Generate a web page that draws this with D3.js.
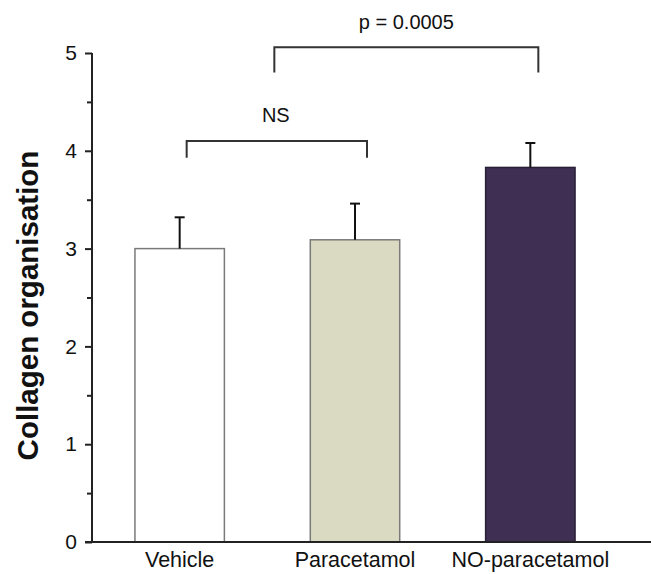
<!DOCTYPE html>
<html>
<head>
<meta charset="utf-8">
<script src="https://cdn.jsdelivr.net/npm/d3@7"></script>
<style>
  body { margin: 0; background: #fff; }
  svg { display: block; font-family: "Liberation Sans", Arial, sans-serif; }
</style>
</head>
<body>
<div id="chart"></div>
<script>
const groups = ['Vehicle', 'Paracetamol', 'NO-paracetamol']
const means = [3.0, 3.09, 3.83]
const errors = [0.32, 0.37, 0.25]
const fills = ['#ffffff', '#dad9c2', '#3f2f53']
const yTicks = [0, 1, 2, 3, 4, 5]
const yMinorTicks = [0.5, 1.5, 2.5, 3.5, 4.5]

// significance brackets: [from, to, bar y, leg bottom y, label y, label]
const brackets = [
    {from: 0, to: 1, top: 4.10, leg: 3.93, labelY: 4.29, label: 'NS'},
    {from: 0.54, to: 2, top: 5.06, leg: 4.80, labelY: 5.25, label: 'p = 0.0005'}
]

const width = 651, height = 574
const x0 = 92, x1 = 618

const svg = d3.select('#chart').append('svg')
    .attr('width', width)
    .attr('height', height)

const x = d3.scaleBand()
    .domain(groups)
    .range([x0, x1])
    .paddingInner(0.49)
    .paddingOuter(0.245)

const y = d3.scaleLinear()
    .domain([0, 5])
    .range([542, 53])

// bars
svg.selectAll('rect.bar')
    .data(groups)
    .join('rect')
    .attr('class', 'bar')
    .attr('x', d => x(d))
    .attr('width', x.bandwidth())
    .attr('y', (d, i) => y(means[i]))
    .attr('height', (d, i) => y(0) - y(means[i]))
    .attr('fill', (d, i) => fills[i])
    .attr('stroke', (d, i) => i == 2 ? '#2a2035' : '#7a7a7a')
    .attr('stroke-width', 1.5)

// error bars (upper only)
const errG = svg.selectAll('g.err')
    .data(groups)
    .join('g')
    .attr('class', 'err')
    .attr('stroke', '#111')
    .attr('stroke-width', 2)
errG.append('line')
    .attr('x1', d => x(d) + x.bandwidth() / 2)
    .attr('x2', d => x(d) + x.bandwidth() / 2)
    .attr('y1', (d, i) => y(means[i]))
    .attr('y2', (d, i) => y(means[i] + errors[i]))
errG.append('line')
    .attr('x1', d => x(d) + x.bandwidth() / 2 - 5)
    .attr('x2', d => x(d) + x.bandwidth() / 2 + 5)
    .attr('y1', (d, i) => y(means[i] + errors[i]))
    .attr('y2', (d, i) => y(means[i] + errors[i]))

// y axis
const yAxis = svg.append('g')
    .attr('transform', `translate(${x0},0)`)
    .call(d3.axisLeft(y).tickValues(yTicks).tickSize(7).tickPadding(8).tickFormat(d3.format('d')))
yAxis.selectAll('text')
    .attr('font-size', 21)
    .attr('fill', '#111')
    .attr('font-family', '"Liberation Sans", Arial, sans-serif')
yAxis.selectAll('line, path').attr('stroke', '#222').attr('stroke-width', 2)
yAxis.select('path.domain').attr('d', `M0,${y(0)}V${y(5)}`)

const yMinor = svg.append('g')
    .attr('transform', `translate(${x0},0)`)
    .call(d3.axisLeft(y).tickValues(yMinorTicks).tickSize(5).tickFormat(''))
yMinor.select('path.domain').remove()
yMinor.selectAll('line').attr('stroke', '#222').attr('stroke-width', 2)

// x axis baseline and labels
svg.append('line')
    .attr('x1', x0 - 7)
    .attr('x2', width)
    .attr('y1', y(0))
    .attr('y2', y(0))
    .attr('stroke', '#222')
    .attr('stroke-width', 2)

const xAxis = svg.append('g')
    .attr('transform', `translate(0,${y(0)})`)
    .call(d3.axisBottom(x).tickSize(0).tickPadding(10))
xAxis.select('path.domain').remove()
xAxis.selectAll('text')
    .attr('font-size', 21.5)
    .attr('fill', '#111')
    .attr('font-family', '"Liberation Sans", Arial, sans-serif')

// y title
svg.append('text')
    .attr('transform', `translate(38,${(y(0) + y(5)) / 2 + 8}) rotate(-90)`)
    .attr('text-anchor', 'middle')
    .attr('font-size', 29.5)
    .attr('font-weight', 'bold')
    .attr('fill', '#111')
    .text('Collagen organisation')

// significance brackets
const bx = i => {
    const f = Math.floor(i), t = i - f
    const c = x(groups[f]) + x.bandwidth() / 2
    return c + t * x.step()
}
brackets.forEach(b => {
    const xa = bx(b.from) + (b.from === 0 ? 7 : 0)
    const xb = bx(b.to) + (b.to === 1 ? 12 : 8)
    svg.append('path')
        .attr('d', `M${xa},${y(b.leg)}V${y(b.top)}H${xb}V${y(b.leg)}`)
        .attr('fill', 'none')
        .attr('stroke', '#333')
        .attr('stroke-width', 2)
    svg.append('text')
        .attr('x', (xa + xb) / 2 + (b.label === 'NS' ? -1 : 0))
        .attr('y', y(b.labelY))
        .attr('text-anchor', 'middle')
        .attr('font-size', 20)
        .attr('fill', '#111')
        .text(b.label)
})
</script>
</body>
</html>
